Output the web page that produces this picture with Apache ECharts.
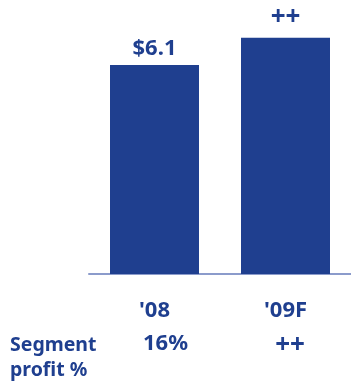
<!DOCTYPE html>
<html><head><meta charset="utf-8">
<script src="https://cdn.jsdelivr.net/npm/echarts@6/dist/echarts.min.js"></script>
<style>html,body{margin:0;padding:0;background:#fff}#c{width:351px;height:385px}</style>
</head><body><div id="c"></div>
<script>
var categories = ["'08", "'09F"];
var revenue = [6.1, 6.9];
var barLabels = ['$6.1', '++'];
var profitPct = ['16%', '++'];
var rowTitle = 'Segment\nprofit %';

var blue = '#1f3f8f';
var font = 'Noto Sans';
function sz(t) { return t === '++' ? 26 : 22; }
var chart = echarts.init(document.getElementById('c'));
chart.setOption({
  animation: false,
  grid: {left: 89, right: -2, top: -1, bottom: 111},
  xAxis: [{
    type: 'category', data: categories,
    axisLine: {lineStyle: {color: '#8b9bcb', width: 2}},
    axisTick: {show: false},
    axisLabel: {color: blue, fontFamily: font, fontWeight: 'bold', fontSize: 22, margin: 26}
  }, {
    type: 'category', data: profitPct.map(function (p, i) {
      return {value: p, textStyle: {fontSize: sz(p), padding: i === 0 ? [0, 0, 0, 22] : [0, 0, 0, 9]}};
    }),
    position: 'bottom', offset: 0,
    axisLine: {show: false}, axisTick: {show: false},
    axisLabel: {color: blue, fontFamily: font, fontWeight: 'bold', fontSize: 22, margin: 59}
  }],
  yAxis: {type: 'value', min: 0, max: 8, show: false, splitLine: {show: false}},
  series: [{
    type: 'bar', barWidth: 89, clip: false,
    data: revenue.map(function (v, i) {
      return {value: v, label: {distance: i === 0 ? 5 : 7, fontSize: sz(barLabels[i])}};
    }),
    itemStyle: {color: blue},
    label: {
      show: true, position: 'top', color: blue, fontFamily: font, fontWeight: 'bold', fontSize: 22,
      formatter: function (p) { return barLabels[p.dataIndex]; }
    }
  }],
  graphic: [{
    type: 'text', left: 10, top: 333,
    style: {text: rowTitle, fill: blue, font: 'bold 19.5px "Noto Sans"', lineHeight: 25}
  }]
});
</script></body></html>
